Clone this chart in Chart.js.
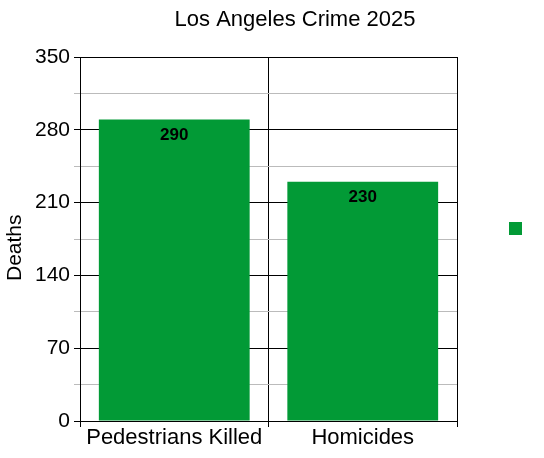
<!DOCTYPE html>
<html>
<head>
<meta charset="utf-8">
<script src="https://cdn.jsdelivr.net/npm/chart.js@4/dist/chart.umd.min.js"></script>
<style>
  body { margin: 0; background: #fff; }
  #wrap { width: 544px; height: 458px; }
</style>
</head>
<body>
<div id="wrap"><canvas id="crimeChart"></canvas></div>
<script>
const categories = ["Pedestrians Killed", "Homicides"];
const deaths = [290, 230];
const chartTitle = "Los Angeles Crime 2025";
const yTitle = "Deaths   ";

const barColor = "#029a36";
const font = "'Liberation Sans', Arial, sans-serif";

// title, value labels and the legend square are drawn by hand
const extras = {
  id: "extras",
  afterDatasetsDraw(chart) {
    const ctx = chart.ctx;
    const meta = chart.getDatasetMeta(0);
    ctx.save();
    ctx.fillStyle = "#000";
    ctx.font = "bold 17px " + font;
    ctx.textAlign = "center";
    ctx.textBaseline = "middle";
    meta.data.forEach((bar, i) => {
      ctx.fillText(deaths[i], bar.x, bar.y + 16);
    });
    ctx.restore();
  },
  afterDraw(chart) {
    const ctx = chart.ctx;
    ctx.save();
    ctx.fillStyle = "#000";
    ctx.font = "22px " + font;
    ctx.textAlign = "center";
    ctx.textBaseline = "middle";
    ctx.fillText(chartTitle, 295, 20);
    ctx.fillStyle = barColor;
    ctx.fillRect(509, 222, 13, 13);
    ctx.restore();
  }
};

const ctx = document.getElementById("crimeChart").getContext("2d");
const crimeChart = new Chart(ctx, {
  type: "bar",
  data: {
    labels: categories,
    datasets: [{
      data: deaths,
      backgroundColor: barColor,
      borderWidth: 0,
      barPercentage: 0.8,
      categoryPercentage: 1
    }]
  },
  options: {
    responsive: true,
    maintainAspectRatio: false,
    animation: false,
    layout: { padding: { top: 57, right: 87, left: 0, bottom: 0 } },
    plugins: {
      legend: { display: false },
      title: { display: false },
      tooltip: { enabled: false }
    },
    scales: {
      x: {
        afterFit: (s) => { s.height = 37; },
        grid: { offset: true, color: "#000", tickLength: 6, lineWidth: 1 },
        border: { color: "#000" },
        ticks: { color: "#000", font: { family: font, size: 22 }, padding: -2, maxRotation: 0 }
      },
      y: {
        min: 0,
        max: 350,
        afterFit: (s) => { s.width = 80; },
        grid: {
          color: (c) => (c.tick && c.tick.value % 70 === 0 ? "#000" : "#bbbbbb"),
          tickColor: (c) => (c.tick && c.tick.value % 70 === 0 ? "#000" : "#bbbbbb"),
          tickLength: 6,
          lineWidth: 1
        },
        border: { color: "#000" },
        ticks: {
          stepSize: 35,
          color: "#000",
          padding: 4,
          font: { family: font, size: 21 },
          callback: (v) => (v % 70 === 0 ? v : "")
        },
        title: {
          display: true,
          text: yTitle,
          color: "#000",
          font: { family: font, size: 21 },
          padding: { top: 3, bottom: 0 }
        }
      }
    }
  },
  plugins: [extras]
});
</script>
</body>
</html>
